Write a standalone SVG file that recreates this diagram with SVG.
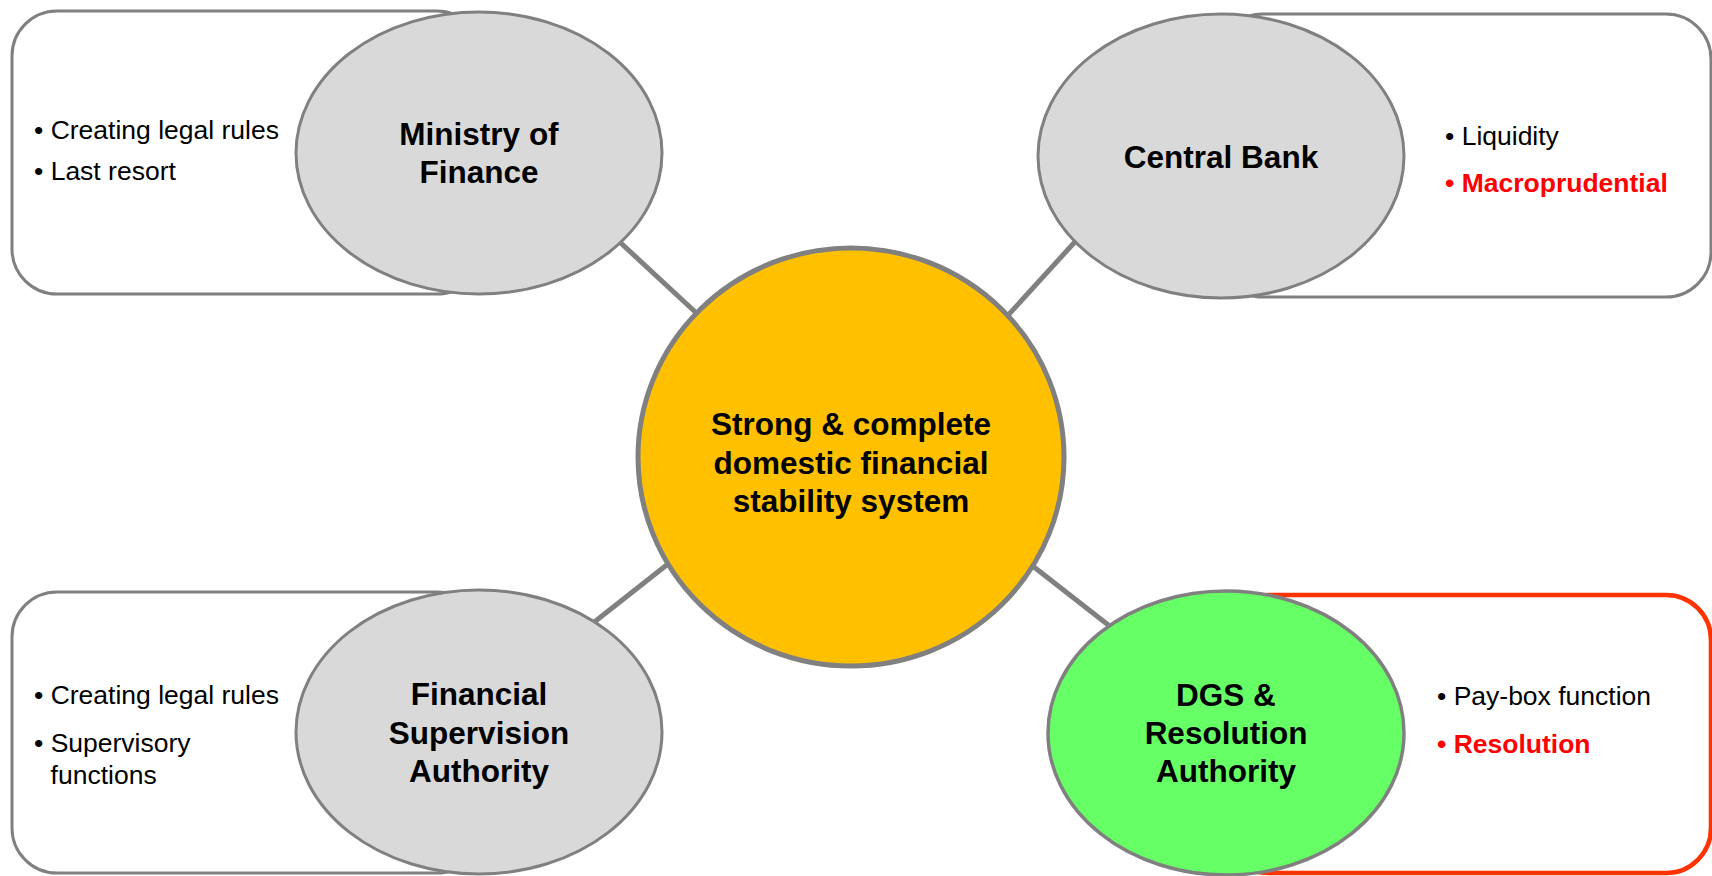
<svg xmlns="http://www.w3.org/2000/svg" width="1712" height="876" viewBox="0 0 1712 876">
  <style>
    .panel { fill: #FFFFFF; stroke: #808080; stroke-width: 3; }
    .panel-hot { fill: #FFFFFF; stroke: #FF3300; stroke-width: 4.5; }
    .agency { fill: #D9D9D9; stroke: #808080; stroke-width: 3; }
    .agency-green { fill: #66FF66; stroke: #808080; stroke-width: 3.5; }
    .hub { fill: #FFC000; stroke: #808080; stroke-width: 5; }
    .link { stroke: #808080; stroke-width: 5; fill: none; }
    .title { font-family: "Liberation Sans", Arial, sans-serif; font-weight: bold; font-size: 31.5px; fill: #000000; text-anchor: middle; }
    .hub-title { font-family: "Liberation Sans", Arial, sans-serif; font-weight: bold; font-size: 31.5px; fill: #000000; text-anchor: middle; }
    .item { font-family: "Liberation Sans", Arial, sans-serif; font-size: 26.5px; fill: #000000; }
    .item-hot { font-family: "Liberation Sans", Arial, sans-serif; font-size: 26.5px; font-weight: bold; fill: #FF0000; }
  </style>

  <rect width="1712" height="876" fill="#FFFFFF"/>

  <!-- spokes between the hub and each authority -->
  <g id="connectors">
    <line class="link" x1="610" y1="233" x2="705" y2="321"/>
    <line class="link" x1="1083" y1="233" x2="1001" y2="323"/>
    <line class="link" x1="673" y1="560" x2="588" y2="627"/>
    <line class="link" x1="1025" y1="560" x2="1116" y2="631"/>
  </g>

  <g id="ministry-of-finance">
    <rect class="panel" x="12" y="11" width="470" height="283" rx="45" ry="45"/>
    <ellipse class="agency" cx="479" cy="153" rx="183" ry="141"/>
    <text class="title" x="479" y="145">Ministry of</text>
    <text class="title" x="479" y="183">Finance</text>
    <text class="item" x="34" y="139">• Creating legal rules</text>
    <text class="item" x="34" y="180">• Last resort</text>
  </g>

  <g id="central-bank">
    <rect class="panel" x="1218" y="14" width="493" height="283" rx="45" ry="45"/>
    <ellipse class="agency" cx="1221" cy="156" rx="183" ry="142"/>
    <text class="title" x="1221" y="168">Central Bank</text>
    <text class="item" x="1445" y="145">• Liquidity</text>
    <text class="item-hot" x="1445" y="192">• Macroprudential</text>
  </g>

  <g id="financial-supervision-authority">
    <rect class="panel" x="12" y="592" width="470" height="281" rx="45" ry="45"/>
    <ellipse class="agency" cx="479" cy="732" rx="183" ry="142"/>
    <text class="title" x="479" y="705">Financial</text>
    <text class="title" x="479" y="744">Supervision</text>
    <text class="title" x="479" y="782">Authority</text>
    <text class="item" x="34" y="704">• Creating legal rules</text>
    <text class="item" x="34" y="752">• Supervisory</text>
    <text class="item" x="50.6" y="784">functions</text>
  </g>

  <g id="dgs-resolution-authority">
    <rect class="panel-hot" x="1224" y="595" width="487" height="278" rx="45" ry="45"/>
    <ellipse class="agency-green" cx="1226" cy="733" rx="178" ry="142"/>
    <text class="title" x="1226" y="706">DGS &amp;</text>
    <text class="title" x="1226" y="744">Resolution</text>
    <text class="title" x="1226" y="782">Authority</text>
    <text class="item" x="1437" y="705">• Pay-box function</text>
    <text class="item-hot" x="1437" y="753">• Resolution</text>
  </g>

  <g id="stability-system">
    <ellipse class="hub" cx="851" cy="457" rx="213" ry="209"/>
    <text class="hub-title" x="851" y="435">Strong &amp; complete</text>
    <text class="hub-title" x="851" y="474">domestic financial</text>
    <text class="hub-title" x="851" y="512">stability system</text>
  </g>
</svg>
